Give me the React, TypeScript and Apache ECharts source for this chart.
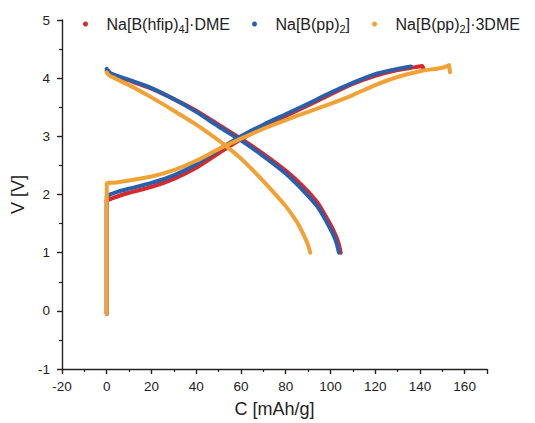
import React, { useEffect, useRef } from "react";
import * as echarts from "echarts";

// Series names
const seriesNames = ["Na[B(hfip)4]·DME", "Na[B(pp)2]", "Na[B(pp)2]·3DME"];
const seriesColors = ["#d8282c", "#2a5fac", "#f2a234"];

// Na[B(hfip)4]·DME (red)
const hfipCharge: [number, number][] = [
  [0, -0.05], [0, 1.9], [1.5, 1.92], [5, 1.97], [10, 2.03], [20, 2.13], [30, 2.27],
  [40, 2.46], [50, 2.71], [60, 2.95], [70, 3.16], [80, 3.35], [90, 3.53],
  [100, 3.72], [110, 3.9], [120, 4.04], [130, 4.14], [138, 4.19], [141, 4.21], [141.5, 4.17],
];
const hfipDischarge: [number, number][] = [
  [0, 4.13], [2, 4.07], [10, 3.96], [20, 3.82], [30, 3.64], [40, 3.44], [50, 3.2],
  [60, 2.96], [70, 2.7], [80, 2.41], [88, 2.13], [94, 1.87], [98, 1.62],
  [101.5, 1.37], [103.5, 1.18], [104.6, 1.0],
];

// Na[B(pp)2] (blue)
const ppCharge: [number, number][] = [
  [0, -0.05], [0, 1.97], [1.5, 2.0], [5, 2.05], [10, 2.1], [20, 2.2], [30, 2.33],
  [40, 2.52], [50, 2.77], [60, 3.0], [70, 3.2], [80, 3.38], [90, 3.56],
  [100, 3.75], [110, 3.92], [120, 4.07], [130, 4.16], [136, 4.2],
];
const ppDischarge: [number, number][] = [
  [0, 4.16], [2, 4.08], [10, 3.97], [20, 3.83], [30, 3.64], [40, 3.42], [50, 3.17],
  [60, 2.93], [70, 2.66], [80, 2.36], [88, 2.06], [94, 1.8], [98, 1.55],
  [101, 1.33], [102.7, 1.17], [103.8, 1.0],
];

// Na[B(pp)2]·3DME (orange)
const pp3Charge: [number, number][] = [
  [0, -0.05], [0, 2.19], [1, 2.2], [5, 2.21], [10, 2.24], [20, 2.31], [30, 2.42],
  [40, 2.58], [50, 2.78], [60, 2.96], [70, 3.13], [80, 3.28], [90, 3.42],
  [100, 3.56], [110, 3.71], [120, 3.88], [130, 4.02], [140, 4.12], [150, 4.18],
  [153, 4.22], [153.5, 4.1],
];
const pp3Discharge: [number, number][] = [
  [0, 4.1], [1, 4.05], [3, 4.01], [10, 3.88], [20, 3.67], [30, 3.44], [40, 3.2],
  [50, 2.93], [55, 2.78], [60, 2.62], [65, 2.43], [70, 2.23], [75, 2.02],
  [80, 1.8], [85, 1.53], [88, 1.31], [90, 1.13], [91, 1.0],
];

// [series index, points, smooth]
const curves: [number, [number, number][], boolean][] = [
  [0, hfipCharge.slice(0, 3), false], [0, hfipCharge.slice(2), true], [0, hfipDischarge, true],
  [1, ppCharge.slice(0, 3), false], [1, ppCharge.slice(2), true], [1, ppDischarge, true],
  [2, pp3Charge.slice(0, 3), false], [2, pp3Charge.slice(2, -1), true], [2, pp3Charge.slice(-2), false],
  [2, pp3Discharge, true],
];

const FONT = "'Liberation Sans', Arial, sans-serif";

export default function App() {
  const ref = useRef<HTMLDivElement>(null);
  useEffect(() => {
    if (!ref.current) return;
    const chart = echarts.init(ref.current, undefined, { renderer: "svg" });
    chart.setOption({
      animation: false,
      textStyle: { fontFamily: FONT },
      grid: { left: 62, right: 48, top: 20, bottom: 49 },
      legend: {
        data: seriesNames,
        left: 78,
        top: 9,
        icon: "circle",
        itemWidth: 32,
        itemHeight: 5,
        itemGap: 22,
        formatter: (name: string) =>
          name.replace(/\)(\d)\]/, (_m, d) => `){sub|${d}}]`),
        textStyle: {
          fontFamily: FONT,
          fontSize: 16,
          color: "#222",
          lineHeight: 20,
          rich: {
            sub: { fontSize: 11, lineHeight: 10, verticalAlign: "bottom", color: "#222", fontFamily: FONT },
          },
        },
      },
      xAxis: {
        type: "value",
        min: -20,
        max: 170,
        interval: 20,
        name: "C [mAh/g]",
        nameLocation: "middle",
        nameGap: 31,
        nameTextStyle: { fontSize: 18, color: "#222", fontFamily: FONT },
        axisLine: { show: true, onZero: false, lineStyle: { color: "#222", width: 1.4 } },
        axisTick: { show: true, length: 5, lineStyle: { color: "#222", width: 1.4 } },
        minorTick: { show: true, splitNumber: 2, length: 3, lineStyle: { color: "#222", width: 1.2 } },
        splitLine: { show: false },
        axisLabel: { fontSize: 13.5, color: "#222", margin: 10, showMaxLabel: false, fontFamily: FONT },
      },
      yAxis: {
        type: "value",
        min: -1,
        max: 5,
        interval: 1,
        name: "V [V]",
        nameLocation: "middle",
        nameGap: 30,
        nameTextStyle: { fontSize: 18, color: "#222", fontFamily: FONT },
        axisLine: { show: true, onZero: false, lineStyle: { color: "#222", width: 1.4 } },
        axisTick: { show: true, length: 5, lineStyle: { color: "#222", width: 1.4 } },
        minorTick: { show: true, splitNumber: 2, length: 3, lineStyle: { color: "#222", width: 1.2 } },
        splitLine: { show: false },
        axisLabel: { fontSize: 13.5, color: "#222", margin: 12, fontFamily: FONT },
      },
      series: curves.map(([idx, data, smooth]) => ({
        type: "line",
        name: seriesNames[idx],
        data,
        showSymbol: false,
        symbol: "none",
        smooth: smooth ? 0.25 : false,
        itemStyle: { color: seriesColors[idx] },
        lineStyle: { color: seriesColors[idx], width: 4, cap: "round", join: "round" },
        z: 2 + idx,
      })),
    });
    return () => chart.dispose();
  }, []);
  return (
    <div
      ref={ref}
      style={{ position: "fixed", left: 0, top: 0, width: 535, height: 423, background: "#fff" }}
    />
  );
}
